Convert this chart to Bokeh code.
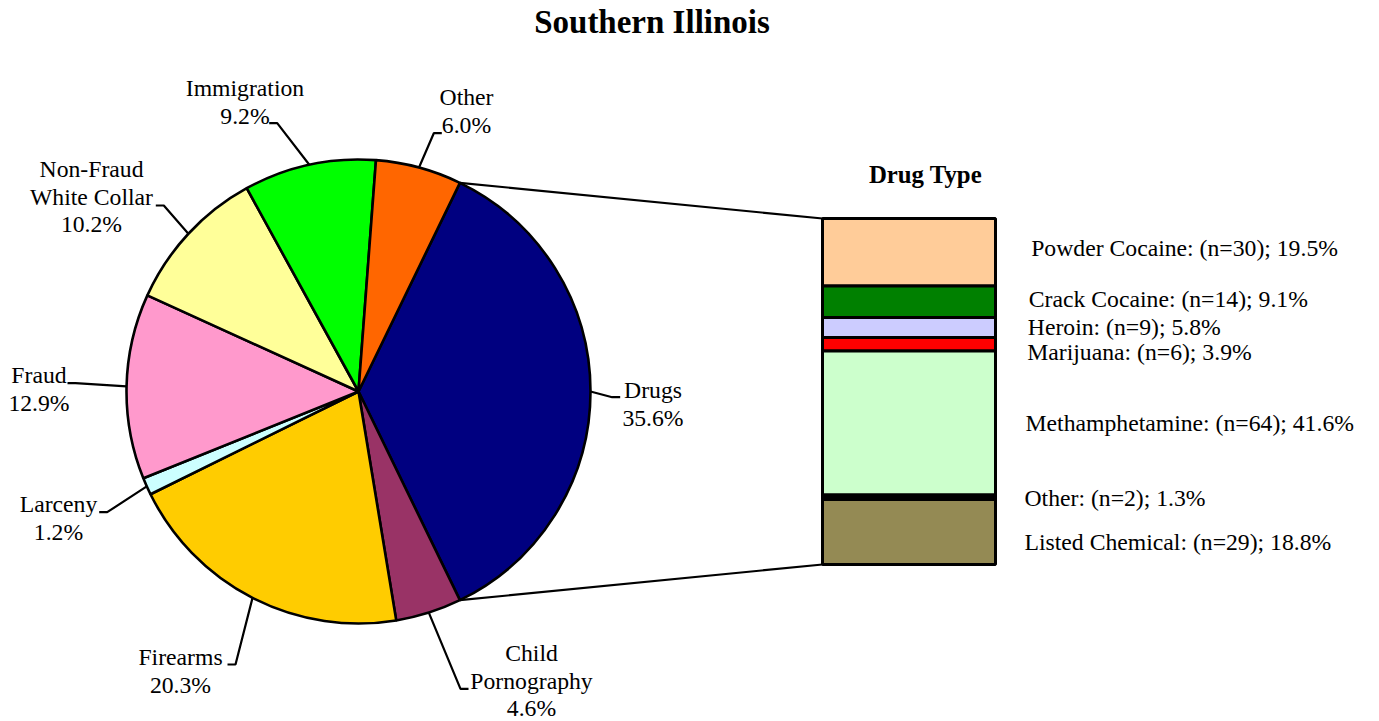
import numpy as np
from bokeh.plotting import figure
from bokeh.models import Range1d
from bokeh.core.properties import value
from bokeh.embed import file_html
from bokeh.resources import INLINE

# ---------------- data ----------------
title = "Southern Illinois"
categories = ["Drugs", "Child\nPornography", "Firearms", "Larceny", "Fraud",
              "Non-Fraud\nWhite Collar", "Immigration", "Other"]
shares = [35.6, 4.6, 20.3, 1.2, 12.9, 10.2, 9.2, 6.0]
pie_colors = ["#000080", "#993366", "#FFCC00", "#CCFFFF", "#FF99CC",
              "#FFFF99", "#00FF00", "#FF6600"]

drug_title = "Drug Type"
drug_types = ["Powder Cocaine", "Crack Cocaine", "Heroin", "Marijuana",
              "Methamphetamine", "Other", "Listed Chemical"]
drug_counts = [30, 14, 9, 6, 64, 2, 29]
drug_shares = [19.5, 9.1, 5.8, 3.9, 41.6, 1.3, 18.8]
drug_colors = ["#FFCC99", "#008000", "#CCCCFF", "#FF0000", "#CCFFCC",
               "#000000", "#948A54"]

# ---------------- layout (pixel space of the page) ----------------
W, H = 1379, 721
PAGE_H = 721
K = 0.37   # correction of rendered baseline offset (fraction of font size)
def Y(v):
    return PAGE_H - v
def YT(v, fs):
    return PAGE_H - (v - K * fs)

CX, CY, R = 358, 391, 232
BAR_L, BAR_R, BAR_T, BAR_B = 822, 995, 218, 564
FONT = "Liberation Serif"
FSV = 23.7
FS = f"{FSV}px"
LINE_H = 27.8

# label centre x, first baseline y, elbow point, stub direction
pie_label_layout = [
    (652.5, 398.0, (611.7, 396.7), +1),
    (531.0, 661.0, (460.0, 688.3), +1),
    (180.0, 665.0, (235.0, 664.0), -1),
    (58.0, 512.0, (106.7, 511.7), -1),
    (38.5, 383.0, (75.0, 382.7), -1),
    (91.0, 177.0, (163.3, 205.0), -1),
    (244.5, 96.7, (276.7, 122.7), -1),
    (466.0, 105.0, (433.3, 132.7), +1),
]
drug_label_x = [1030.7, 1028.3, 1027.3, 1026.7, 1025.0, 1024.0, 1024.0]
drug_label_y = [256.7, 307.7, 335.0, 360.7, 431.7, 506.7, 550.0]

p = figure(width=W, height=H, x_range=Range1d(0, W), y_range=Range1d(PAGE_H - H, PAGE_H),
           output_backend="svg", toolbar_location=None, min_border=0,
           x_axis_type=None, y_axis_type=None, outline_line_color=None)
p.grid.visible = False

# ---------------- pie ----------------
fr = np.array(shares) / np.sum(shares)
span = fr * 2 * np.pi
start0 = span[0] / 2.0          # first slice centred on the right
starts = start0 - np.concatenate([[0], np.cumsum(span)[:-1]])
ends = starts - span
mids = (starts + ends) / 2.0

p.wedge(x=CX, y=Y(CY), radius=R, start_angle=starts, end_angle=ends,
        direction="clock", fill_color=pie_colors, line_color="black", line_width=2.6)

# leader lines
lxs, lys = [], []
for m, (lx, ly, (ex, ey), d) in zip(mids, pie_label_layout):
    px = CX + R * np.cos(m)
    py = CY - R * np.sin(m)
    lxs.append([px, ex, ex + d * 8])
    lys.append([Y(py), Y(ey), Y(ey)])
p.multi_line(xs=lxs, ys=lys, line_color="black", line_width=2.2)

# pie labels
tx, ty, tt = [], [], []
for cat, s, (lx, ly, _, _) in zip(categories, shares, pie_label_layout):
    lines = cat.split("\n") + [f"{s:.1f}%"]
    for i, ln in enumerate(lines):
        tx.append(lx)
        ty.append(YT(ly + i * LINE_H, FSV))
        tt.append(ln)
p.text(x=tx, y=ty, text=tt, text_font=value(FONT), text_font_size=FS,
       text_align="center", text_baseline="alphabetic", text_color="black")

# ---------------- bar of drug types ----------------
dfr = np.array(drug_shares) / np.sum(drug_shares)
bh = BAR_B - BAR_T
tops = BAR_T + np.concatenate([[0], np.cumsum(dfr)[:-1]]) * bh
bots = BAR_T + np.cumsum(dfr) * bh
p.quad(left=BAR_L, right=BAR_R, top=Y(tops), bottom=Y(bots),
       fill_color=drug_colors, line_color="black", line_width=3)

# connector lines from the drugs slice to the bar
a0, a1 = starts[0], ends[0]
p.multi_line(xs=[[CX + R * np.cos(a0), BAR_L], [CX + R * np.cos(a1), BAR_L]],
             ys=[[Y(CY - R * np.sin(a0)), Y(BAR_T)], [Y(CY - R * np.sin(a1)), Y(BAR_B)]],
             line_color="black", line_width=2.2)

drug_texts = [f"{n}:  (n={c}); {s:.1f}%" for n, c, s in zip(drug_types, drug_counts, drug_shares)]
p.text(x=drug_label_x, y=[YT(v, FSV) for v in drug_label_y], text=drug_texts,
       text_font=value(FONT), text_font_size=FS, text_align="left",
       text_baseline="alphabetic", text_color="black")

# ---------------- titles ----------------
p.text(x=[651.5], y=[YT(33.3, 33)], text=[title], text_font=value(FONT),
       text_font_size="33px", text_font_style="bold", text_align="center",
       text_baseline="alphabetic", text_color="black")
p.text(x=[925], y=[YT(183.3, 24.8)], text=[drug_title], text_font=value(FONT),
       text_font_size="24.8px", text_font_style="bold", text_align="center",
       text_baseline="alphabetic", text_color="black")

open("out.html", "w").write(file_html(p, INLINE))
